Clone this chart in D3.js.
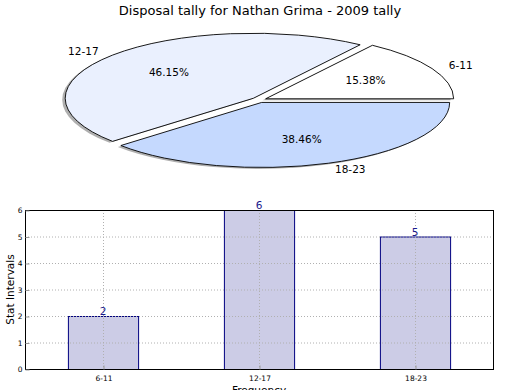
<!DOCTYPE html>
<html>
<head>
<meta charset="utf-8">
<script src="https://cdn.jsdelivr.net/npm/d3@7/dist/d3.min.js"></script>
<style>
  body { margin: 0; background: #fff; }
  text { font-family: "DejaVu Sans", sans-serif; }
</style>
</head>
<body>
<div id="chart"></div>
<script>
// data
var categories = ["6-11", "12-17", "18-23"];
var counts = [2, 6, 5];
var yTickValues = [0, 1, 2, 3, 4, 5, 6];
var pieColors = ["#ffffff", "#eaf0fe", "#c5d9fe"];

var width = 520;
var height = 390;

var svg = d3.select("#chart")
  .append("svg")
  .attr("width", width)
  .attr("height", height);

// TITLE
svg.append("text")
  .attr("x", 260)
  .attr("y", 15)
  .attr("text-anchor", "middle")
  .attr("font-size", 13)
  .text("Disposal tally for Nathan Grima - 2009 tally");

// PIE (squashed ellipse, exploded, with shadow)
var cx = 259, cy = 100, rx = 188, ry = 65;
var explode = 0.04;
var total = d3.sum(counts);

var pie = d3.pie()
  .sort(null)
  .startAngle(Math.PI / 2)
  .endAngle(Math.PI / 2 - 2 * Math.PI);

var arcs = pie(counts);
var arc = d3.arc().innerRadius(0).outerRadius(1);

var pieG = svg.append("g");

arcs.forEach(function (d, i) {
  var m = (d.startAngle + d.endAngle) / 2;
  var ux = Math.sin(m), uy = -Math.cos(m);
  var ox = cx + explode * rx * ux;
  var oy = cy + explode * ry * uy;

  // shadow
  pieG.append("path")
    .attr("d", arc(d))
    .attr("transform", "translate(" + (ox - 3) + "," + (oy + 1.5) + ") scale(" + rx + "," + ry + ")")
    .attr("fill", "#4d4d4d")
    .attr("opacity", 0.45)
    .attr("stroke", "none");

  pieG.append("path")
    .attr("d", arc(d))
    .attr("transform", "translate(" + ox + "," + oy + ") scale(" + rx + "," + ry + ")")
    .attr("fill", pieColors[i])
    .attr("stroke", "#000")
    .attr("stroke-width", 0.9)
    .attr("vector-effect", "non-scaling-stroke");

  // category label
  pieG.append("text")
    .attr("x", ox + 1.1 * rx * ux)
    .attr("y", oy + 1.1 * ry * uy)
    .attr("dy", "0.35em")
    .attr("text-anchor", ux < 0 ? "end" : "start")
    .attr("font-size", 10.5)
    .text(categories[i]);

  // percent label
  pieG.append("text")
    .attr("x", ox + 0.6 * rx * ux)
    .attr("y", oy + 0.6 * ry * uy)
    .attr("dy", "0.35em")
    .attr("text-anchor", "middle")
    .attr("font-size", 10.5)
    .text(d3.format(".2f")(100 * d.data / total) + "%");
});

// BAR CHART
var bLeft = 25, bRight = 493, bTop = 210, bBottom = 369;

var x = d3.scaleLinear().domain([-0.5, 2.5]).range([bLeft, bRight]);
var y = d3.scaleLinear().domain([0, 6]).range([bBottom, bTop]);
var barW = 0.45;

var barG = svg.append("g");

// bars
barG.selectAll(".bar")
  .data(counts)
  .enter()
  .append("rect")
  .attr("x", (d, i) => x(i - barW / 2) + 0.5)
  .attr("y", (d) => y(d) + 0.5)
  .attr("width", (d) => x(barW) - x(0))
  .attr("height", (d) => bBottom - y(d))
  .attr("fill", "#ccccE6")
  .attr("stroke", "#000080")
  .attr("stroke-width", 1);

// grid (drawn on top of bars like the original)
barG.selectAll(".hgrid")
  .data(yTickValues)
  .enter()
  .append("line")
  .attr("x1", bLeft).attr("x2", bRight)
  .attr("y1", (d) => y(d) + 0.5).attr("y2", (d) => y(d) + 0.5)
  .attr("stroke", "#b0b0b0")
  .attr("stroke-dasharray", "1,2");

barG.selectAll(".vgrid")
  .data(categories)
  .enter()
  .append("line")
  .attr("x1", (d, i) => x(i) + 0.5).attr("x2", (d, i) => x(i) + 0.5)
  .attr("y1", bTop).attr("y2", bBottom)
  .attr("stroke", "#b0b0b0")
  .attr("stroke-dasharray", "1,2");

// bar value labels
barG.selectAll(".val")
  .data(counts)
  .enter()
  .append("text")
  .attr("x", (d, i) => x(i))
  .attr("y", (d) => y(d) - 1)
  .attr("text-anchor", "middle")
  .attr("font-size", 10.5)
  .attr("fill", "#1a1a8c")
  .text((d) => d);

// frame
barG.append("rect")
  .attr("x", bLeft + 0.5).attr("y", bTop + 0.5)
  .attr("width", bRight - bLeft).attr("height", bBottom - bTop)
  .attr("fill", "none")
  .attr("stroke", "#000")
  .attr("stroke-width", 1);

// axes
var yAxis = d3.axisLeft(y).tickValues(yTickValues).tickFormat(d3.format("d")).tickSize(-4).tickPadding(3);
var yAx = barG.append("g")
  .attr("transform", "translate(" + (bLeft + 0.5) + ",0.5)")
  .call(yAxis);
yAx.select(".domain").remove();
yAx.selectAll("line").attr("stroke", "#999");
yAx.selectAll("text").attr("font-size", 7.5).attr("font-family", "DejaVu Sans").attr("fill", "#000");

var xAxis = d3.axisBottom(x).tickValues([0, 1, 2]).tickFormat((d) => categories[d]).tickSize(-4).tickPadding(6);
var xAx = barG.append("g")
  .attr("transform", "translate(0.5," + (bBottom + 0.5) + ")")
  .call(xAxis);
xAx.select(".domain").remove();
xAx.selectAll("line").attr("stroke", "#999");
xAx.selectAll("text").attr("font-size", 7.5).attr("font-family", "DejaVu Sans").attr("fill", "#000");

// axis titles
svg.append("text")
  .attr("transform", "translate(14," + ((bTop + bBottom) / 2) + ") rotate(-90)")
  .attr("text-anchor", "middle")
  .attr("font-size", 10.5)
  .text("Stat Intervals");

svg.append("text")
  .attr("x", (bLeft + bRight) / 2)
  .attr("y", 394)
  .attr("text-anchor", "middle")
  .attr("font-size", 10.5)
  .text("Frequency");
</script>
</body>
</html>
